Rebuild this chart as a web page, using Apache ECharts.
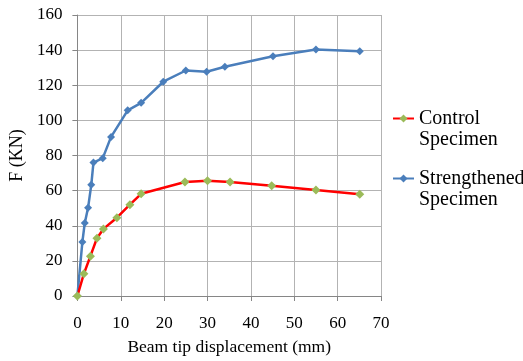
<!DOCTYPE html>
<html><head><meta charset="utf-8">
<script src="https://cdn.jsdelivr.net/npm/echarts@6/dist/echarts.min.js"></script>
<style>html,body{margin:0;padding:0;background:#fff}#c{width:523px;height:361px}</style>
</head><body><div id="c"></div>
<script>
const controlX = [0, 1.5, 3.0, 4.5, 6.0, 9.1, 12.1, 14.7, 24.8, 30.0, 35.2, 44.8, 55.0, 65.1];
const controlY = [0, 12.7, 22.7, 32.9, 38.2, 44.6, 52.0, 58.2, 64.9, 65.6, 64.9, 62.8, 60.3, 58.0];
const strengthX = [0, 1.15, 1.7, 2.46, 3.2, 3.7, 5.85, 7.76, 11.6, 14.7, 19.8, 25.0, 29.8, 34.0, 45.1, 55.0, 65.1];
const strengthY = [0, 30.8, 41.6, 50.2, 63.3, 76.0, 78.5, 90.6, 105.7, 110.0, 122.0, 128.4, 127.7, 130.5, 136.5, 140.3, 139.3];
const seriesNames = ['Control\nSpecimen', 'Strengthened\nSpecimen'];

const font = 'Liberation Serif';
const legendText = {fontFamily: font, fontSize: 20, color: '#000', lineHeight: 21};
const legendFmt = name => '\n' + name;
const chart = echarts.init(document.getElementById('c'), null, {renderer: 'canvas'});
chart.setOption({
  animation: false,
  backgroundColor: '#fff',
  grid: {left: 77, right: 142, top: 15, bottom: 64, containLabel: false},
  legend: [
    {orient: 'vertical', left: 387, top: 82, itemWidth: 21, itemHeight: 10,
     formatter: legendFmt, textStyle: legendText, data: [seriesNames[0]]},
    {orient: 'vertical', left: 387, top: 142, itemWidth: 21, itemHeight: 10,
     formatter: legendFmt, textStyle: legendText, data: [seriesNames[1]]}
  ],
  xAxis: {
    type: 'value', min: 0, max: 70, interval: 10,
    name: 'Beam tip displacement (mm)', nameLocation: 'middle', nameGap: 42,
    nameTextStyle: {fontFamily: font, fontSize: 17.5, color: '#000'},
    axisLine: {show: true, lineStyle: {color: '#868686', width: 1}},
    axisTick: {show: true, length: 5, lineStyle: {color: '#868686'}},
    axisLabel: {fontFamily: font, fontSize: 17, color: '#000', margin: 19},
    splitLine: {show: true, lineStyle: {color: '#b3b3b3', width: 1}}
  },
  yAxis: {
    type: 'value', min: 0, max: 160, interval: 20,
    name: 'F (KN)', nameLocation: 'middle', nameGap: 37, nameRotate: 90,
    nameTextStyle: {fontFamily: font, fontSize: 18, color: '#000'},
    axisLine: {show: true, lineStyle: {color: '#868686', width: 1}},
    axisTick: {show: true, length: 5, lineStyle: {color: '#868686'}},
    axisLabel: {fontFamily: font, fontSize: 17, color: '#000', margin: 15},
    splitLine: {show: true, lineStyle: {color: '#b3b3b3', width: 1}}
  },
  series: [
    {
      name: seriesNames[0], type: 'line',
      data: controlX.map((x, i) => [x, controlY[i]]),
      symbol: 'diamond', symbolSize: 9,
      lineStyle: {color: '#ff0000', width: 2.5},
      itemStyle: {color: '#9bbb59'},
      color: '#ff0000', z: 3
    },
    {
      name: seriesNames[1], type: 'line',
      data: strengthX.map((x, i) => [x, strengthY[i]]),
      symbol: 'diamond', symbolSize: 8,
      lineStyle: {color: '#4a7ebb', width: 2.5},
      itemStyle: {color: '#4a7ebb'},
      color: '#4a7ebb', z: 2
    }
  ]
});
</script></body></html>
